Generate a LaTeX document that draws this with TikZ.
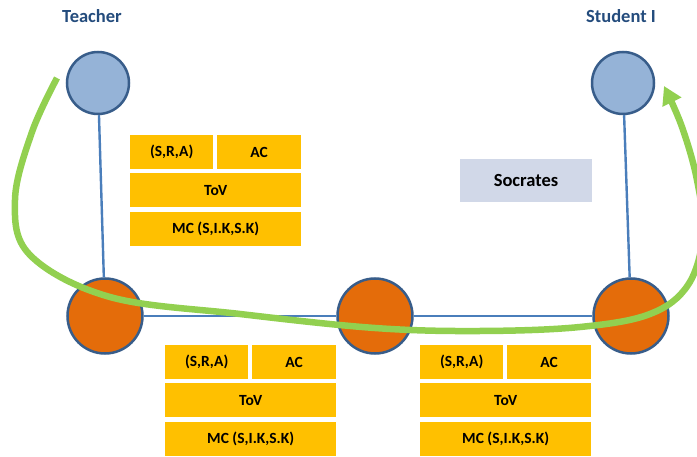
\documentclass[tikz,border=0pt]{standalone}
\usepackage{fontspec}
\setmainfont{Carlito}
\usetikzlibrary{arrows.meta}
\definecolor{labblue}{HTML}{244C7D}
\definecolor{rimblue}{HTML}{385D8A}
\definecolor{lightblue}{HTML}{95B3D7}
\definecolor{orng}{HTML}{E46C0A}
\definecolor{yell}{HTML}{FFC000}
\definecolor{linkblue}{HTML}{4A7EBB}
\definecolor{grn}{HTML}{92D050}
\definecolor{socbg}{HTML}{D1D8E8}
\tikzset{
  topcirc/.style={circle, draw=rimblue, line width=2.5pt, fill=lightblue, minimum size=62pt, inner sep=0pt},
  botcirc/.style={circle, draw=rimblue, line width=2.5pt, fill=orng, minimum size=75pt, inner sep=0pt},
  link/.style={draw=linkblue, line width=2.4pt},
  ybox/.style={fill=yell, anchor=north west, inner sep=0pt, minimum height=34pt, font=\fontsize{15.5}{17}\selectfont\bfseries},
  halfbox/.style={ybox, minimum width=83pt},
  fullbox/.style={ybox, minimum width=171pt},
  lab/.style={text=labblue, font=\fontsize{18.5}{20}\selectfont\bfseries},
  flow/.style={draw=grn, line width=6.5pt, -{Triangle[length=18pt,width=20pt]}}
}
\begin{document}
\begin{tikzpicture}[x=1pt,y=-1pt]
\clip (0,0) rectangle (697,457);
\fill[white] (0,0) rectangle (697,457);
% labels
\node[lab] (tl) at (92,16) {Teacher};
\node[lab] (sl) at (621,16) {Student I};
% group 1
\node[halfbox] (a1) at (130,135) {(S,R,A)};
\node[halfbox, minimum width=84pt] (b1) at (217,135) {AC};
\node[fullbox] (c1) at (130,173) {ToV};
\node[fullbox] (d1) at (130,212) {MC (S,I.K,S.K)};
% group 2
\node[halfbox] (a2) at (165,345) {(S,R,A)};
\node[halfbox, minimum width=84pt] (b2) at (252,345) {AC};
\node[fullbox] (c2) at (165,383) {ToV};
\node[fullbox] (d2) at (165,422) {MC (S,I.K,S.K)};
% group 3
\node[halfbox] (a3) at (420,345) {(S,R,A)};
\node[halfbox, minimum width=84pt] (b3) at (507,345) {AC};
\node[fullbox] (c3) at (420,383) {ToV};
\node[fullbox] (d3) at (420,422) {MC (S,I.K,S.K)};
% socrates
\node[fill=socbg, minimum width=132pt, minimum height=43pt, inner sep=0pt, font=\fontsize{18.5}{20}\selectfont\bfseries] (soc) at (526,180.5) {Socrates};
% circles
\node[topcirc] (T) at (98,83) {};
\node[topcirc] (S) at (623,83) {};
\node[botcirc] (L) at (105,316) {};
\node[botcirc] (M) at (375,316) {};
\node[botcirc] (R) at (631,316) {};
\draw[link] (T) -- (L);
\draw[link] (S) -- (R);
\draw[link] (L) -- (M);
\draw[link] (M) -- (R);
% green flow
\draw[flow] plot[smooth, tension=0.6] coordinates {(57,78) (32,132) (15,200) (30,255) (110,297) (240,314) (375,328) (480,331) (580,327) (650,314) (688,285) (703,235) (697,180) (682,127) (664,86)};
\end{tikzpicture}
\end{document}
